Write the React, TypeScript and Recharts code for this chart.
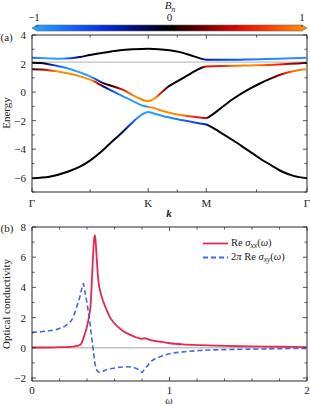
import React from 'react';
import { LineChart, Line, XAxis, YAxis, ReferenceLine, Legend } from 'recharts';

// ---- panel (a): bands along Γ–K–M–Γ (path length units: K = 4/3, M = 2, Γ = 2 + 2/√3)
const kTicks = [0, 0.667, 1.333, 1.667, 2, 2.577, 3.155];
const kTickNames = ['Γ', '', 'K', '', 'M', '', 'Γ'];
const energyTicks = [-7, -6, -5, -4, -3, -2, -1, 0, 1, 2, 3, 4];
const fermiLevel = 2.1;

// [k, E]
const band1: [number, number][] = [
  [0, -6.03], [0.2, -5.93], [0.4, -5.6], [0.55, -5.22], [0.665, -4.8], [0.8, -4.15], [0.895, -3.6],
  [1.0, -3.02], [1.09, -2.5], [1.17, -2.02], [1.24, -1.66], [1.29, -1.48], [1.333, -1.4],
  [1.4, -1.5], [1.55, -1.75], [1.73, -1.98], [1.88, -2.15], [1.95, -2.22], [2.0, -2.27], [2.05, -2.42],
  [2.15, -2.78], [2.31, -3.39], [2.47, -4.05], [2.62, -4.67], [2.75, -5.15], [2.88, -5.6], [3.0, -5.87], [3.155, -6.03],
];
const band2: [number, number][] = [
  [0, 1.6], [0.1, 1.58], [0.206, 1.52], [0.32, 1.42], [0.436, 1.29], [0.55, 1.1], [0.665, 0.87],
  [0.73, 0.7], [0.78, 0.52], [0.84, 0.33], [0.9, 0.14], [1.01, -0.2], [1.09, -0.42], [1.16, -0.63],
  [1.27, -0.95], [1.333, -1.03], [1.4, -1.12], [1.5, -1.33], [1.65, -1.55], [1.8, -1.7], [1.95, -1.8],
  [2.0, -1.82], [2.06, -1.62], [2.12, -1.35], [2.31, -0.47], [2.5, 0.24], [2.62, 0.62], [2.75, 0.98],
  [2.88, 1.29], [3.04, 1.52], [3.155, 1.6],
];
const band3: [number, number][] = [
  [0, 2.06], [0.1, 2.03], [0.206, 1.94], [0.32, 1.8], [0.436, 1.62], [0.55, 1.38], [0.665, 1.1],
  [0.73, 0.9], [0.78, 0.74], [0.84, 0.58], [0.9, 0.46], [1.01, 0.24], [1.09, 0.02], [1.16, -0.23],
  [1.24, -0.47], [1.3, -0.6], [1.333, -0.63], [1.37, -0.57], [1.41, -0.42], [1.47, -0.12], [1.55, 0.32],
  [1.64, 0.66], [1.73, 0.98], [1.82, 1.3], [1.9, 1.57], [1.96, 1.74], [2.0, 1.8], [2.15, 1.82],
  [2.35, 1.85], [2.5, 1.87], [2.7, 1.9], [2.88, 1.95], [3.05, 2.01], [3.155, 2.04],
];
const band4: [number, number][] = [
  [0, 2.41], [0.1, 2.39], [0.206, 2.36], [0.32, 2.34], [0.436, 2.37], [0.55, 2.46], [0.665, 2.6],
  [0.78, 2.72], [0.895, 2.83], [1.01, 2.93], [1.16, 3.0], [1.333, 3.04], [1.45, 3.01], [1.58, 2.93],
  [1.7, 2.8], [1.82, 2.58], [1.92, 2.38], [2.0, 2.27], [2.2, 2.26], [2.45, 2.28], [2.7, 2.31],
  [2.9, 2.36], [3.155, 2.41],
];

// [k, B_n] colour value along each band
const band1Bn: [number, number][] = [
  [0, 0], [0.95, 0], [1.07, -0.3], [1.16, -0.7], [1.25, -0.95], [1.333, -1], [1.5, -0.95],
  [1.75, -0.75], [1.95, -0.55], [2.0, -0.4], [2.05, 0], [3.155, 0],
];
const band2Bn: [number, number][] = [
  [0, 0.15], [0.1, 0.3], [0.2, 0.65], [0.28, 1], [0.68, 1], [0.73, 0.6], [0.78, 0.3], [0.84, -0.2],
  [0.9, -0.55], [1.0, -0.85], [1.1, -1], [1.32, -0.95], [1.333, -0.9], [1.336, 1], [1.7, 1],
  [1.8, 0.75], [1.95, 0.55], [2.0, 0.45], [2.04, 0], [2.7, 0], [2.85, 0.4], [3.0, 0.9], [3.155, 1],
];
const band3Bn: [number, number][] = [
  [0, 0], [0.15, -0.1], [0.25, -0.5], [0.35, -0.85], [0.45, -1], [0.66, -1], [0.74, -0.65],
  [0.79, -0.3], [0.85, 0], [0.95, 0.2], [1.03, 0.5], [1.1, 0.8], [1.17, 1], [1.42, 1], [1.47, 0.6],
  [1.53, 0.25], [1.58, 0], [1.93, 0], [2.0, 0.55], [2.1, 0.6], [2.2, 0.7], [2.3, 0.9], [2.55, 1],
  [2.7, 0.8], [2.88, 0.55], [3.0, 0.35], [3.155, 0.2],
];
const band4Bn: [number, number][] = [
  [0, -0.75], [0.1, -0.95], [0.2, -1], [0.36, -0.95], [0.45, -0.6], [0.52, -0.3], [0.6, 0],
  [1.9, 0], [1.97, -0.3], [2.1, -0.5], [2.4, -0.7], [2.65, -0.9], [3.155, -0.95],
];

const bnStops = [-1, -0.75, -0.5, -0.25, 0, 0.25, 0.5, 0.75, 1];
const bnColors = ['#2aa0ff', '#1466ff', '#052ee6', '#020c70', '#000000', '#6e0000', '#dc0505', '#ff3c00', '#ff8c00'];
const bnTicks = [-1, -0.5, 0, 0.5, 1];

// ---- panel (b): optical conductivity
const omega = [
  0, 0.1, 0.2, 0.25, 0.3, 0.325, 0.35, 0.36, 0.373, 0.385, 0.398, 0.41, 0.417, 0.427, 0.439, 0.451,
  0.458, 0.464, 0.47, 0.482, 0.495, 0.507, 0.525, 0.543, 0.565, 0.59, 0.625, 0.664, 0.7, 0.737, 0.76,
  0.785, 0.8, 0.815, 0.834, 0.858, 0.88, 0.93, 1.0, 1.1, 1.22, 1.4, 1.585, 1.8, 2.0,
];
const sigmaXX = [
  0.02, 0.02, 0.04, 0.05, 0.08, 0.12, 0.2, 0.3, 0.6, 0.95, 1.35, 1.83, 2.2, 2.94, 5.15, 7.13,
  7.46, 6.9, 6.03, 4.48, 3.8, 3.38, 2.9, 2.5, 2.05, 1.72, 1.38, 1.1, 0.92, 0.77, 0.68,
  0.62, 0.6, 0.63, 0.6, 0.52, 0.48, 0.4, 0.3, 0.22, 0.17, 0.12, 0.09, 0.07, 0.05,
];
const sigmaXY = [
  1.02, 1.1, 1.28, 1.5, 2.05, 2.71, 3.45, 3.85, 4.26, 3.7, 3.05, 2.35, 1.95, 1.2, 0.3, -0.55,
  -1.03, -1.3, -1.45, -1.59, -1.63, -1.6, -1.52, -1.45, -1.4, -1.36, -1.3, -1.27, -1.26, -1.3, -1.38,
  -1.5, -1.63, -1.45, -1.26, -0.98, -0.81, -0.6, -0.4, -0.27, -0.18, -0.12, -0.09, -0.06, -0.04,
];
const omegaTicks = [0, 0.2, 0.4, 0.6, 0.8, 1, 1.2, 1.4, 1.6, 1.8, 2];
const sigmaTicks = [-2, -1, 0, 1, 2, 3, 4, 5, 6, 7, 8];

const SERIF = "'Liberation Serif', 'DejaVu Serif', 'Times New Roman', serif";
const AX = '#2b2b2b';
const RED = '#e8274d';
const BLUE = '#4169e6';
const K_END = 3.155;

type Box = { left: number; right: number; top: number; bottom: number; labelGap: number };
const boxA: Box = { left: 32, right: 307, top: 35, bottom: 192, labelGap: 15 };
const boxB: Box = { left: 32, right: 307, top: 12, bottom: 166, labelGap: 13 };

const hex = (h: string) => [1, 3, 5].map(i => parseInt(h.slice(i, i + 2), 16));
const cmap = (v: number) => {
  const t = Math.max(-1, Math.min(1, v));
  let i = 0;
  while (i < bnStops.length - 2 && t > bnStops[i + 1]) i++;
  const f = (t - bnStops[i]) / (bnStops[i + 1] - bnStops[i]);
  const a = hex(bnColors[i]);
  const b = hex(bnColors[i + 1]);
  const c = a.map((x, j) => Math.round(x + (b[j] - x) * f));
  return `rgb(${c[0]},${c[1]},${c[2]})`;
};

const minus = (v: number) => (v < 0 ? `\u2212${Math.abs(v)}` : `${v}`);

const xTick = (box: Box, nameOf: (v: number) => string) => (props: any) => {
  const { x, payload } = props;
  const name = nameOf(payload.value);
  const len = name ? 4 : 2.5;
  return (
    <g>
      <line x1={x} x2={x} y1={box.bottom} y2={box.bottom - len} stroke={AX} strokeWidth={0.8} />
      <line x1={x} x2={x} y1={box.top} y2={box.top + len} stroke={AX} strokeWidth={0.8} />
      {name && (
        <text x={x} y={box.bottom + box.labelGap} textAnchor="middle" fontFamily={SERIF} fontSize={11} fill="#222">
          {name}
        </text>
      )}
    </g>
  );
};

const yTick = (box: Box) => (props: any) => {
  const { y, payload } = props;
  const major = payload.value % 2 === 0;
  const len = major ? 4 : 2.5;
  return (
    <g>
      <line x1={box.left} x2={box.left + len} y1={y} y2={y} stroke={AX} strokeWidth={0.8} />
      <line x1={box.right} x2={box.right - len} y1={y} y2={y} stroke={AX} strokeWidth={0.8} />
      {major && (
        <text x={box.left - 6} y={y + 4} textAnchor="end" fontFamily={SERIF} fontSize={11} fill="#222">
          {minus(payload.value)}
        </text>
      )}
    </g>
  );
};

const bands = [
  { id: 'band1', pts: band1, bn: band1Bn },
  { id: 'band2', pts: band2, bn: band2Bn },
  { id: 'band3', pts: band3, bn: band3Bn },
  { id: 'band4', pts: band4, bn: band4Bn },
];

const condData = omega.map((w, i) => ({ w, xx: sigmaXX[i], xy: sigmaXY[i] }));

const LegendRow = ({ color, dash, children }: { color: string; dash?: string; children: React.ReactNode }) => (
  <div style={{ display: 'flex', alignItems: 'center', height: 13.5 }}>
    <svg width={28} height={13} style={{ flex: 'none' }}>
      <line x1={0} x2={25} y1={6.5} y2={6.5} stroke={color} strokeWidth={1.8} strokeDasharray={dash} />
    </svg>
    <span style={{ whiteSpace: 'nowrap', lineHeight: '12px' }}>{children}</span>
  </div>
);

const sub = { fontSize: 7.5, position: 'relative' as const, top: 2, fontStyle: 'italic' as const };

const SigmaLegend = () => (
  <div style={{ fontFamily: SERIF, fontSize: 10.5, color: '#222', lineHeight: '12px' }}>
    <LegendRow color={RED}>
      Re <i>σ</i><span style={sub}>xx</span>(<i>ω</i>)
    </LegendRow>
    <LegendRow color={BLUE} dash="5 3">
      2<i>π</i> Re <i>σ</i><span style={sub}>xy</span>(<i>ω</i>)
    </LegendRow>
  </div>
);

const Colorbar = () => {
  const x0 = 37;
  const x1 = 302;
  const y0 = 25;
  const y1 = 31;
  const ym = (y0 + y1) / 2;
  const px = (v: number) => x0 + ((v + 1) / 2) * (x1 - x0);
  const off = (v: number) => (px(v) - (x0 - 5)) / (x1 - x0 + 10);
  return (
    <g>
      <defs>
        <linearGradient id="cbar" x1="0" y1="0" x2="1" y2="0">
          {bnStops.map((v, i) => (
            <stop key={i} offset={off(v)} stopColor={bnColors[i]} />
          ))}
        </linearGradient>
      </defs>
      <polygon
        points={`${x0 - 5},${ym} ${x0},${y0} ${x1},${y0} ${x1 + 5},${ym} ${x1},${y1} ${x0},${y1}`}
        fill="url(#cbar)"
        stroke="#666"
        strokeWidth={0.6}
      />
      {bnTicks.map(v => (
        <line key={v} x1={px(v)} x2={px(v)} y1={y0} y2={y0 + 2} stroke="#333" strokeWidth={0.8} />
      ))}
      {[-1, 0, 1].map(v => (
        <text key={v} x={px(v) - (v === -1 ? 3 : 0)} y={20.5} textAnchor="middle" fontFamily={SERIF} fontSize={11} fill="#222">
          {minus(v)}
        </text>
      ))}
      <text x={170} y={9} textAnchor="middle" fontFamily={SERIF} fontSize={11} fill="#222" fontStyle="italic">
        B<tspan fontSize={8} dy={2.5}>n</tspan>
      </text>
    </g>
  );
};

export default function App() {
  return (
    <div style={{ position: 'absolute', left: 0, top: 0, width: 310, height: 404, background: '#fff' }}>
      <div style={{ position: 'absolute', left: 0, top: 0 }}>
        <LineChart width={310} height={215} margin={{ top: 35, right: 3, bottom: 1, left: 0 }}>
          <defs>
            {bands.map(b => (
              <linearGradient key={b.id} id={b.id} x1="0" y1="0" x2="1" y2="0">
                {b.bn.map(([k, v], i) => (
                  <stop key={i} offset={k / K_END} stopColor={cmap(v)} />
                ))}
              </linearGradient>
            ))}
          </defs>
          <XAxis
            type="number"
            dataKey="k"
            domain={[0, K_END]}
            ticks={kTicks}
            interval={0}
            height={22}
            tickLine={false}
            axisLine={{ stroke: AX }}
            tick={xTick(boxA, v => kTickNames[kTicks.indexOf(v)] || '')}
            allowDataOverflow
          />
          <YAxis
            type="number"
            domain={[-7, 4]}
            ticks={energyTicks}
            interval={0}
            width={32}
            tickLine={false}
            axisLine={{ stroke: AX }}
            tick={yTick(boxA)}
            allowDataOverflow
          />
          <ReferenceLine y={4} stroke={AX} />
          <ReferenceLine x={K_END} stroke={AX} />
          <ReferenceLine y={fermiLevel} stroke="#9a9a9a" strokeWidth={0.8} />
          {bands.map(b => (
            <Line
              key={b.id}
              data={b.pts.map(([k, e]) => ({ k, e }))}
              dataKey="e"
              type="monotone"
              stroke={`url(#${b.id})`}
              strokeWidth={2}
              dot={false}
              activeDot={false}
              isAnimationActive={false}
            />
          ))}
        </LineChart>
      </div>

      <div style={{ position: 'absolute', left: 0, top: 215 }}>
        <LineChart width={310} height={189} data={condData} margin={{ top: 12, right: 3, bottom: 3, left: 0 }}>
          <XAxis
            type="number"
            dataKey="w"
            domain={[0, 2]}
            ticks={omegaTicks}
            interval={0}
            height={20}
            tickLine={false}
            axisLine={{ stroke: AX }}
            tick={xTick(boxB, v => (Number.isInteger(v) ? String(v) : ''))}
            allowDataOverflow
          />
          <YAxis
            type="number"
            domain={[-2.2, 8]}
            ticks={sigmaTicks}
            interval={0}
            width={32}
            tickLine={false}
            axisLine={{ stroke: AX }}
            tick={yTick(boxB)}
            allowDataOverflow
          />
          <ReferenceLine y={8} stroke={AX} />
          <ReferenceLine x={2} stroke={AX} />
          <ReferenceLine y={0} stroke="#c4c4c4" strokeWidth={1.6} />
          <Line dataKey="xx" type="monotone" stroke={RED} strokeWidth={1.8} dot={false} activeDot={false} isAnimationActive={false} />
          <Line dataKey="xy" type="monotone" stroke={BLUE} strokeWidth={1.6} strokeDasharray="5 3" dot={false} activeDot={false} isAnimationActive={false} />
          <Legend
            layout="vertical"
            align="center"
            verticalAlign="middle"
            content={() => <SigmaLegend />}
            wrapperStyle={{ left: 203, top: 22, width: 105 }}
          />
        </LineChart>
      </div>

      <svg width={310} height={404} style={{ position: 'absolute', left: 0, top: 0, pointerEvents: 'none' }}>
        <Colorbar />
        <text x={0.5} y={41} fontFamily={SERIF} fontSize={11} fill="#222">(a)</text>
        <text x={0.5} y={232} fontFamily={SERIF} fontSize={11} fill="#222">(b)</text>
        <text transform="translate(10,113) rotate(-90)" textAnchor="middle" fontFamily={SERIF} fontSize={11} fill="#222">
          Energy
        </text>
        <text transform="translate(10,304) rotate(-90)" textAnchor="middle" fontFamily={SERIF} fontSize={11} fill="#222">
          Optical conductivity
        </text>
        <text x={169} y={217} textAnchor="middle" fontFamily={SERIF} fontSize={11} fontWeight="bold" fontStyle="italic" fill="#222">
          k
        </text>
        <text x={169} y={403.5} textAnchor="middle" fontFamily={SERIF} fontSize={10.5} fontStyle="italic" fill="#222">
          ω
        </text>
      </svg>
    </div>
  );
}
